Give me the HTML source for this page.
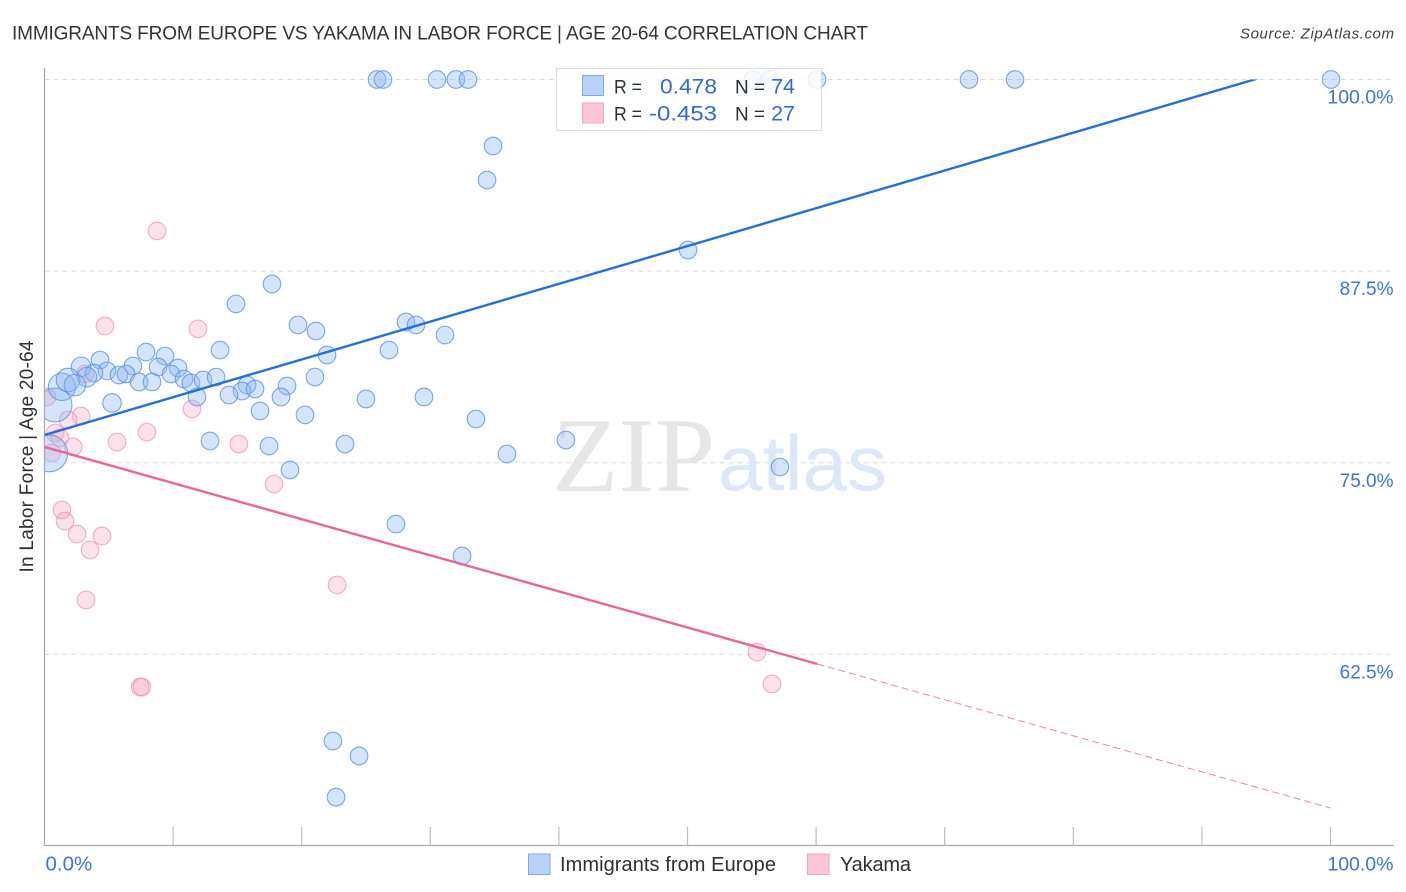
<!DOCTYPE html>
<html lang="en">
<head>
<meta charset="utf-8">
<title>Immigrants from Europe vs Yakama in Labor Force | Age 20-64 Correlation Chart</title>
<style>
html,body{margin:0;padding:0;background:#fff;width:1406px;height:892px;overflow:hidden}
svg{display:block;font-family:"Liberation Sans",sans-serif}
</style>
</head>
<body>
<svg id="chart" xmlns="http://www.w3.org/2000/svg" width="1406" height="892" viewBox="0 0 1406 892">
  <defs>
    <clipPath id="trend-clip"><rect x="44.5" y="79.5" width="1350" height="766"/></clipPath>
  </defs>
  <text x="12" y="39.5" font-size="19" fill="#2f343a" textLength="856" lengthAdjust="spacing">IMMIGRANTS FROM EUROPE VS YAKAMA IN LABOR FORCE | AGE 20-64 CORRELATION CHART</text>
  <text x="1394" y="38.5" font-size="15" font-style="italic" fill="#3a3f45" text-anchor="end" textLength="154" lengthAdjust="spacing">Source: ZipAtlas.com</text>

  <g id="grid"></g>

  <g>
    <text x="552" y="491" font-family="'Liberation Serif', serif" font-size="106" fill="#e6e6e6" textLength="163" lengthAdjust="spacingAndGlyphs">ZIP</text>
    <text x="718" y="490" font-family="'Liberation Sans', sans-serif" font-size="78" fill="#dce7f8" textLength="169" lengthAdjust="spacingAndGlyphs">atlas</text>
  </g>

  <g id="points"></g>
  <rect x="0" y="60" width="44.5" height="790" fill="#ffffff"/>

  <g id="axes">
    <line x1="44.5" y1="68" x2="44.5" y2="846" stroke="#aaaaaa" stroke-width="1.3"/>
    <line x1="44" y1="845.5" x2="1394" y2="845.5" stroke="#aaaaaa" stroke-width="1.3"/>
  </g>

  <g id="trends" clip-path="url(#trend-clip)"></g>

  <g>
    <rect x="556.5" y="68.5" width="265" height="62" fill="#ffffff" fill-opacity="0.82" stroke="#dddddd" stroke-width="1"/>
    <rect x="582.5" y="75.5" width="21" height="20" fill="#b9d3f8" stroke="#7fabe6"/>
    <rect x="582.5" y="103" width="21" height="20" fill="#fcc6d8" stroke="#f1a5c0"/>
    <text x="614" y="93.5" font-size="19" fill="#2b3036" textLength="28" lengthAdjust="spacingAndGlyphs">R =</text>
    <text x="660" y="93.5" font-size="21.5" fill="#2f6bd3" textLength="57" lengthAdjust="spacingAndGlyphs">0.478</text>
    <text x="735" y="93.5" font-size="19" fill="#2b3036" textLength="30" lengthAdjust="spacingAndGlyphs">N =</text>
    <text x="795" y="93.5" font-size="21.5" fill="#2f6bd3" text-anchor="end">74</text>
    <text x="614" y="120.5" font-size="19" fill="#2b3036" textLength="28" lengthAdjust="spacingAndGlyphs">R =</text>
    <text x="649" y="120.5" font-size="21.5" fill="#2f6bd3" textLength="68" lengthAdjust="spacingAndGlyphs">-0.453</text>
    <text x="735" y="120.5" font-size="19" fill="#2b3036" textLength="30" lengthAdjust="spacingAndGlyphs">N =</text>
    <text x="795" y="120.5" font-size="21.5" fill="#2f6bd3" text-anchor="end">27</text>
  </g>

  <g id="labels"></g>

  <text transform="translate(33,456.5) rotate(-90)" font-size="19" fill="#2b3036" text-anchor="middle" textLength="232" lengthAdjust="spacing">In Labor Force | Age 20-64</text>

  <g>
    <rect x="528.5" y="854" width="21.5" height="20.5" fill="#b9d3f8" stroke="#7fabe6"/>
    <text x="560" y="871" font-size="20" fill="#2b3036" textLength="216" lengthAdjust="spacing">Immigrants from Europe</text>
    <rect x="807.5" y="854" width="21.5" height="20.5" fill="#fcc6d8" stroke="#f1a5c0"/>
    <text x="840" y="871" font-size="20" fill="#2b3036" textLength="71" lengthAdjust="spacing">Yakama</text>
  </g>
</svg>
<script>
const yTickValues = [100, 87.5, 75, 62.5];
const yTickLabels = ['100.0%', '87.5%', '75.0%', '62.5%'];
const xTickValues = [10, 20, 30, 40, 50, 60, 70, 80, 90, 100];
const xEndValues = [0, 100];
const xEndLabels = ['0.0%', '100.0%'];

const europeX = [25.86,26.32,30.52,31.99,32.93,55.09,56.42,60.07,71.89,75.47,100.04,
  34.88,34.41,50.04,17.69,14.89,19.71,21.11,28.11,28.89,31.14,13.65,26.79,21.97,7.89,9.37,
  4.32,2.84,4.86,6.88,8.83,10.38,3.85,5.79,6.34,9.84,3.30,10.85,11.39,12.33,13.34,7.35,8.36,
  21.03,18.86,15.75,15.36,16.37,14.35,18.39,11.86,25.0,29.51,5.25,16.76,20.26,33.55,12.87,
  23.37,17.46,40.55,35.96,19.09,57.19,27.33,32.47,22.43,24.46,22.67,0.82,0.36,1.36,1.83,2.37];
const europeY = [100,100,100,100,100,100,100,100,100,100,100,
  95.66,93.44,88.88,86.66,85.36,83.99,83.59,84.18,83.99,83.33,82.35,82.35,82.03,82.22,81.96,
  81.70,81.25,80.99,81.31,81.25,81.18,80.85,80.72,80.79,80.79,80.59,80.46,80.20,80.40,80.59,80.27,80.27,
  80.59,80.01,80.07,79.68,79.81,79.42,79.29,79.29,79.16,79.29,78.90,78.38,78.12,77.85,76.42,
  76.22,76.09,76.48,75.57,74.53,74.72,71.0,68.92,56.85,55.87,53.19,78.77,75.61,79.95,80.40,80.07];
const europeWeight = [1,1,1,1,1,1,1,1,1,1,1,
  1,1,1,1,1,1,1,1,1,1,1,1,1,1,1,
  1,1.25,1,1,1,1,1,1,1,1,1.25,1,1,1,1,1,1,
  1,1,1,1,1,1,1,1,1,1,1.1,1,1,1,1,
  1,1,1,1,1,1,1,1,1,1,1,3.7,4.4,2.4,1.8,1.5];

const yakamaX = [8.75,4.70,11.94,0.19,3.15,2.84,1.83,0.82,1.2,2.22,0.58,5.64,7.97,11.47,15.12,17.85,
  1.36,1.59,2.53,4.47,3.54,3.23,22.75,7.43,7.58,55.4,56.57];
const yakamaY = [90.12,83.92,83.73,79.29,80.79,78.05,77.79,76.94,76.62,76.03,75.64,76.35,77.0,78.51,76.22,73.61,
  71.92,71.2,70.35,70.22,69.31,66.05,67.03,60.37,60.37,62.65,60.57];

const europeTrendX = [0, 100];
const europeTrendY = [76.81, 101.46];
const yakamaTrendX = [0, 60.07];
const yakamaTrendY = [76.03, 61.88];
const yakamaDashX = [60.07, 100];
const yakamaDashY = [61.88, 52.48];

const X_ORIGIN = 44.5, X_PER_UNIT = 12.86;
const Y_ORIGIN = 79.5, Y_PER_UNIT = 15.33;
const BASE_RADIUS = 8.8;
function xScale(v){ return X_ORIGIN + v * X_PER_UNIT; }
function yScale(v){ return Y_ORIGIN + (100 - v) * Y_PER_UNIT; }

const NS = 'http://www.w3.org/2000/svg';
function make(tag, attrs, parent){
  const el = document.createElementNS(NS, tag);
  for (const k in attrs) el.setAttribute(k, attrs[k]);
  parent.appendChild(el);
  return el;
}
const grid = document.getElementById('grid');
const axes = document.getElementById('axes');
const labels = document.getElementById('labels');
const points = document.getElementById('points');
const trends = document.getElementById('trends');

yTickValues.forEach(function(v, i){
  const line = make('line', {x1:44.5, x2:1394, y1:yScale(v), y2:yScale(v), stroke:'#dcdcdc', 'stroke-width':1, 'stroke-dasharray':'5 4'}, grid);
  
  
  const t = make('text', {x:1393.5, y:yScale(v)+24, 'font-size': v === 100 ? 19.5 : 19, fill:'#3f74d6', 'text-anchor':'end'}, labels);
  t.textContent = yTickLabels[i];
  
  
});

xTickValues.forEach(function(v){
  const tick = make('line', {x1:xScale(v), x2:xScale(v), y1:827, y2:845.5, stroke:'#bdbdbd', 'stroke-width':1.2}, axes);
  
  
});

xEndValues.forEach(function(v, i){
  const t = make('text', {x: i === 0 ? xScale(v) + 1 : 1393.5, y:870.5, 'font-size': i === 0 ? 20.5 : 19.5, fill:'#3f74d6', 'text-anchor': i === 0 ? 'start' : 'end'}, labels);
  t.textContent = xEndLabels[i];
  
  
});

yakamaX.forEach(function(v, i){
  const c = make('circle', {cx:xScale(v), cy:yScale(yakamaY[i]), r:BASE_RADIUS, fill:'#f8a8c4', 'fill-opacity':0.35, stroke:'#ec8fb0', 'stroke-opacity':0.7, 'stroke-width':1.1}, points);
  
  
});

europeX.forEach(function(v, i){
  const c = make('circle', {cx:xScale(v), cy:yScale(europeY[i]), r:BASE_RADIUS*Math.sqrt(europeWeight[i]), fill:'#8fb9f2', 'fill-opacity':0.38, stroke:'#5d93de', 'stroke-opacity':0.8, 'stroke-width':1.1}, points);
  
  
});

const blueTrend = make('line', {x1:xScale(europeTrendX[0]), y1:yScale(europeTrendY[0]), x2:xScale(europeTrendX[1]), y2:yScale(europeTrendY[1]), stroke:'#2370d8', 'stroke-width':2.4}, trends);



const pinkTrend = make('line', {x1:xScale(yakamaTrendX[0]), y1:yScale(yakamaTrendY[0]), x2:xScale(yakamaTrendX[1]), y2:yScale(yakamaTrendY[1]), stroke:'#e8669a', 'stroke-width':2.4}, trends);



const pinkDash = make('line', {x1:xScale(yakamaDashX[0]), y1:yScale(yakamaDashY[0]), x2:xScale(yakamaDashX[1]), y2:yScale(yakamaDashY[1]), stroke:'#e8669a', 'stroke-width':1, 'stroke-dasharray':'7 4', 'stroke-opacity':0.8}, trends);


</script>
</body>
</html>
